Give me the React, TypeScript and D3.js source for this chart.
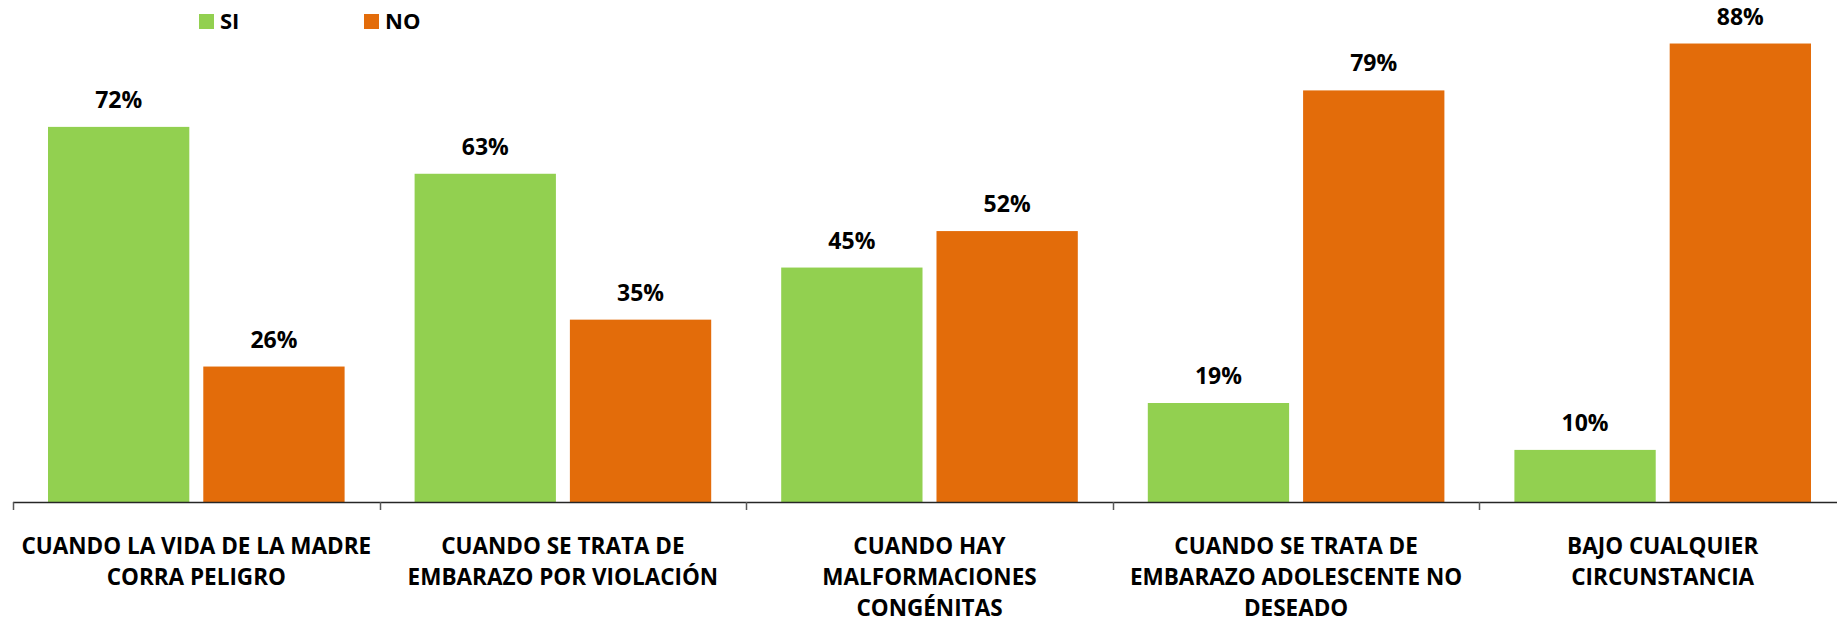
import * as d3 from "d3";
import React, { useEffect, useRef } from "react";

// categories (line breaks follow the original wrapping)
const categories = [
  "CUANDO LA VIDA DE LA MADRE\nCORRA PELIGRO",
  "CUANDO SE TRATA DE\nEMBARAZO POR VIOLACIÓN",
  "CUANDO HAY\nMALFORMACIONES\nCONGÉNITAS",
  "CUANDO SE TRATA DE\nEMBARAZO ADOLESCENTE NO\nDESEADO",
  "BAJO CUALQUIER\nCIRCUNSTANCIA",
];
const seriesNames = ["SI", "NO"];
const siValues = [72, 63, 45, 19, 10];
const noValues = [26, 35, 52, 79, 88];
const colors = ["#92D050", "#E36C0A"];

const WIDTH = 1837;
const HEIGHT = 619;
const FONT = "'Open Sans', 'Liberation Sans', sans-serif";

const App: React.FC = () => {
  const svgRef = useRef<SVGSVGElement | null>(null);

  useEffect(() => {
    if (!svgRef.current) return;
    const svg = d3.select(svgRef.current);
    svg.selectAll("*").remove();

    const margin = { left: 13, baseline: 502 };
    const step = 366.6;

    const x0 = d3
      .scaleBand<string>()
      .domain(categories)
      .range([margin.left, margin.left + step * categories.length]);

    const x1 = d3
      .scaleBand<string>()
      .domain(seriesNames)
      .range([35, step - 35])
      .paddingInner(0.09);

    const y = d3.scaleLinear().domain([0, 100]).range([margin.baseline, -19]);

    const rows = categories.map((c, i) => ({
      cat: c,
      vals: [
        { name: "SI", value: siValues[i] },
        { name: "NO", value: noValues[i] },
      ],
    }));

    const color = d3.scaleOrdinal<string, string>().domain(seriesNames).range(colors);

    // === Bars ===
    const groups = svg
      .append("g")
      .selectAll("g")
      .data(rows)
      .enter()
      .append("g")
      .attr("transform", (d) => `translate(${x0(d.cat)},0)`);

    groups
      .selectAll("rect")
      .data((d) => d.vals)
      .enter()
      .append("rect")
      .attr("x", (d) => x1(d.name)!)
      .attr("y", (d) => y(d.value))
      .attr("width", x1.bandwidth())
      .attr("height", (d) => y(0) - y(d.value))
      .attr("fill", (d) => color(d.name));

    // === Value labels ===
    groups
      .selectAll("text")
      .data((d) => d.vals)
      .enter()
      .append("text")
      .attr("x", (d) => x1(d.name)! + x1.bandwidth() / 2)
      .attr("y", (d) => y(d.value) - 19)
      .attr("text-anchor", "middle")
      .attr("font-family", FONT)
      .attr("font-size", "23px")
      .attr("font-weight", "bold")
      .attr("fill", "#000")
      .text((d) => `${d.value}%`);

    // === Axis ===
    const [r0, r1] = x0.range();
    svg
      .append("line")
      .attr("x1", r0)
      .attr("x2", WIDTH)
      .attr("y1", y(0) + 0.5)
      .attr("y2", y(0) + 0.5)
      .attr("stroke", "#262626")
      .attr("stroke-width", 1.5);

    const ticks = d3.range(categories.length + 1).map((i) => r0 + i * x0.step());
    svg
      .append("g")
      .selectAll("line")
      .data(ticks.filter((t) => t <= r1))
      .enter()
      .append("line")
      .attr("x1", (d) => Math.round(d) + 0.5)
      .attr("x2", (d) => Math.round(d) + 0.5)
      .attr("y1", y(0))
      .attr("y2", y(0) + 8)
      .attr("stroke", "#595959")
      .attr("stroke-width", 1.5);

    // === Category labels ===
    const catLabels = svg
      .append("g")
      .selectAll("text")
      .data(categories)
      .enter()
      .append("text")
      .attr("text-anchor", "middle")
      .attr("font-family", FONT)
      .attr("font-size", "22.5px")
      .attr("font-weight", "bold")
      .attr("fill", "#000");

    catLabels.each(function (d) {
      const t = d3.select(this);
      const cx = x0(d)! + x0.bandwidth() / 2;
      d.split("\n").forEach((line, i) => {
        t.append("tspan")
          .attr("x", cx)
          .attr("y", 554 + i * 31)
          .text(line);
      });
    });

    // === Legend ===
    const legendX = [199, 364];
    const legend = svg
      .append("g")
      .selectAll("g")
      .data(seriesNames)
      .enter()
      .append("g")
      .attr("transform", (_, i) => `translate(${legendX[i]},14)`);

    legend
      .append("rect")
      .attr("width", 15)
      .attr("height", 15)
      .attr("fill", (d) => color(d));

    legend
      .append("text")
      .attr("x", 21)
      .attr("y", 15)
      .attr("font-family", FONT)
      .attr("font-size", "22px")
      .attr("font-weight", "bold")
      .attr("fill", "#000")
      .text((d) => d);
  }, []);

  return (
    <div style={{ position: "absolute", left: 0, top: 0, background: "#fff" }}>
      <svg ref={svgRef} width={WIDTH} height={HEIGHT} style={{ display: "block" }}></svg>
    </div>
  );
};

export default App;
